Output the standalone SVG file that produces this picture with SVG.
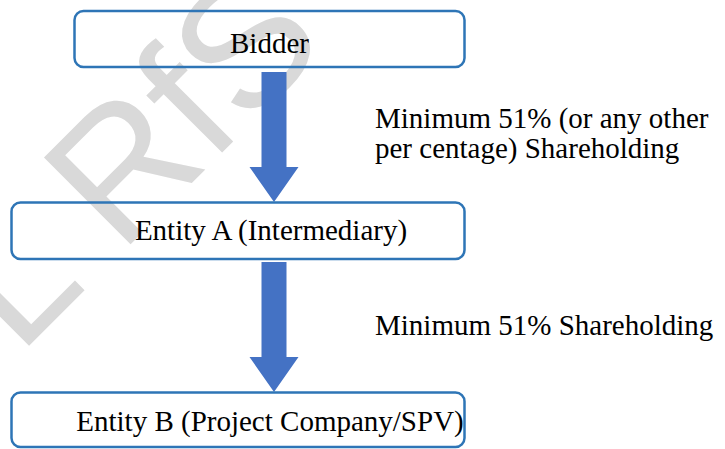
<svg xmlns="http://www.w3.org/2000/svg" width="725" height="449" viewBox="0 0 725 449">
<style>
.box{fill:none;stroke:#2e75b6;stroke-width:2.5}
.lbl{font-family:"Liberation Serif","Times New Roman",serif;font-size:29px;fill:#000}
.wm{font-family:"Liberation Sans",Arial,sans-serif;font-size:178px;fill:#d9d9d9}
.arrow{fill:#4472c4}
</style>
<rect width="725" height="449" fill="#fff"/>
<g id="watermark">
<text class="wm" transform="rotate(-45)"><tspan x="-238.5" y="265">L</tspan><tspan x="-95" y="265">RfS</tspan></text>
</g>
<g id="connectors">
<polygon class="arrow" points="261.5,72 286.5,72 286.5,167 298.5,167 274,202 249.5,167 261.5,167"/>
<polygon class="arrow" points="261.5,262 286.5,262 286.5,357 298.5,357 274,392 249.5,357 261.5,357"/>
</g>
<g id="label1">
<text class="lbl" x="375" y="128">Minimum 51% (or any other</text>
<text class="lbl" x="375" y="158">per centage) Shareholding</text>
</g>
<g id="label2">
<text class="lbl" x="375" y="335">Minimum 51% Shareholding</text>
</g>
<g id="bidder">
<rect class="box" x="74.5" y="11" width="390" height="56" rx="9"/>
<text class="lbl" x="269.5" y="53" text-anchor="middle">Bidder</text>
</g>
<g id="entityA">
<rect class="box" x="11.5" y="202.5" width="453" height="56.5" rx="9"/>
<text class="lbl" x="271" y="240" text-anchor="middle">Entity A (Intermediary)</text>
</g>
<g id="entityB">
<rect class="box" x="11.5" y="392.5" width="453" height="54.5" rx="9"/>
<text class="lbl" x="270" y="431" text-anchor="middle">Entity B (Project Company/SPV)</text>
</g>
</svg>
